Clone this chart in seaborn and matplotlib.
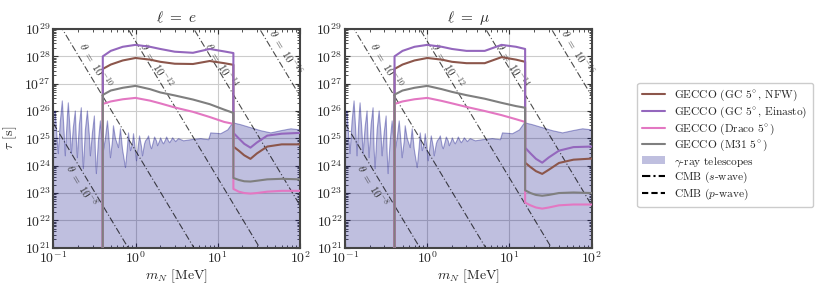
import numpy as np
import pandas as pd
import seaborn as sns
import matplotlib.pyplot as plt
from matplotlib.ticker import LogLocator, NullFormatter
from matplotlib.patches import Patch
from matplotlib.lines import Line2D

# GECCO mass grid [MeV]; repeated masses are the threshold and the jump
gecco_m = [0.4, 0.4, 0.5, 0.7, 1.0, 1.5, 2.0, 3.0, 5.0, 8.0, 12.0, 15.5,
           15.5, 18.0, 21.0, 25.0, 30.0, 40.0, 60.0, 100.0]

# log10(tau / s) for l = e
e_nfw = [18, 27.54, 27.70, 27.85, 27.94, 27.88, 27.80, 27.73, 27.72, 27.83, 27.75, 27.69,
         24.70, 24.55, 24.38, 24.25, 24.45, 24.70, 24.78, 24.78]
e_einasto = [18, 28.00, 28.20, 28.35, 28.42, 28.35, 28.27, 28.17, 28.13, 28.27, 28.18, 28.12,
             25.20, 25.00, 24.80, 24.66, 24.85, 25.10, 25.17, 25.20]
e_draco = [18, 26.26, 26.35, 26.43, 26.48, 26.38, 26.28, 26.13, 25.97, 25.78, 25.60, 25.53,
           23.15, 23.05, 23.00, 22.98, 23.00, 23.05, 23.08, 23.08]
e_m31 = [18, 26.59, 26.75, 26.85, 26.92, 26.80, 26.68, 26.57, 26.42, 26.25, 26.05, 25.93,
         23.55, 23.48, 23.43, 23.42, 23.45, 23.50, 23.52, 23.50]

# log10(tau / s) for l = mu
mu_nfw = [18, 27.54, 27.70, 27.85, 27.94, 27.88, 27.80, 27.75, 27.75, 27.97, 27.88, 27.80,
          24.11, 23.95, 23.80, 23.70, 23.85, 24.10, 24.22, 24.26]
mu_einasto = [18, 28.00, 28.20, 28.35, 28.42, 28.35, 28.27, 28.20, 28.20, 28.42, 28.35, 28.27,
              24.66, 24.45, 24.25, 24.11, 24.30, 24.55, 24.68, 24.70]
mu_draco = [18, 26.26, 26.35, 26.43, 26.48, 26.37, 26.28, 26.15, 26.00, 25.85, 25.70, 25.60,
            22.65, 22.55, 22.47, 22.43, 22.47, 22.55, 22.58, 22.58]
mu_m31 = [18, 26.60, 26.75, 26.85, 26.92, 26.80, 26.70, 26.58, 26.45, 26.30, 26.18, 26.12,
          23.10, 23.00, 22.93, 22.90, 22.93, 23.00, 23.02, 23.00]

# gamma-ray telescope bound: log10(m / MeV), log10(tau / s)
gamma_logm = [-1.0, -0.976, -0.951, -0.939, -0.915, -0.89, -0.866, -0.854, -0.829, -0.817,
              -0.793, -0.78, -0.756, -0.732, -0.72, -0.707, -0.683, -0.659, -0.646, -0.634,
              -0.61, -0.585, -0.561, -0.549, -0.524, -0.5, -0.488, -0.476, -0.451, -0.427,
              -0.415, -0.39, -0.366, -0.341, -0.317, -0.305, -0.28, -0.268, -0.244, -0.207,
              -0.195, -0.183, -0.158, -0.122, -0.098, -0.085, -0.061, -0.037, -0.024, 0.012,
              0.037, 0.049, 0.073, 0.085, 0.11, 0.122, 0.146, 0.159, 0.183, 0.195, 0.22,
              0.232, 0.256, 0.268, 0.293, 0.305, 0.329, 0.341, 0.366, 0.378, 0.402, 0.415,
              0.439, 0.451, 0.476, 0.488, 0.512, 0.524, 0.585, 0.671, 0.793, 0.89, 0.915,
              1.037, 1.122, 1.183, 1.28, 1.402, 1.524, 1.646, 1.768, 1.89, 2.0]
gamma_logtau = [25.93, 26.0, 24.9, 24.44, 25.6, 26.37, 25.1, 24.36, 25.8, 26.3,
                25.2, 24.44, 25.4, 26.0, 25.0, 24.29, 25.5, 26.12, 24.6, 23.89,
                25.3, 26.0, 25.1, 24.36, 25.2, 25.82, 24.5, 23.71, 24.9, 25.64,
                25.2, 24.55, 25.0, 25.64, 24.8, 24.29, 24.9, 25.46, 25.0, 24.66,
                25.0, 25.35, 24.6, 23.93, 24.7, 25.2, 24.55, 24.8, 25.17, 24.18,
                24.8, 25.09, 24.7, 24.36, 24.8, 24.91, 25.0, 25.09, 24.7, 24.62, 24.9,
                25.05, 24.9, 24.73, 24.9, 25.02, 24.85, 24.8, 24.95, 25.05, 24.9, 24.84,
                24.95, 25.02, 24.93, 24.88, 24.96, 24.99, 24.91, 24.95, 24.99, 24.95, 25.2,
                25.17, 25.31, 25.57, 25.5, 25.39, 25.28, 25.2, 25.28, 25.35, 25.31]

# CMB lines: log10 tau at m = 0.1 and 100 MeV for each mixing angle
cmb_theta_exp = [-8, -10, -12, -14, -16]
cmb_m = [0.1, 100.0]
cmb_logtau_lo = [25.55, 29.55, 33.55, 37.55, 41.55]
cmb_logtau_hi = [10.55, 14.55, 18.55, 22.55, 26.55]
cmb_label_logm = [-0.66, -0.49, 0.25, 1.04, 1.83]
cmb_label_logtau = [23.27, 27.69, 27.69, 27.69, 28.16]

gecco_labels = [r"GECCO (GC 5$^{\!\circ}$, NFW)", r"GECCO (GC 5$^{\!\circ}$, Einasto)",
                r"GECCO (Draco 5$^{\!\circ}$)", r"GECCO (M31 5$^{\!\circ}$)"]
gecco_colors = ["#8c564b", "#9467bd", "#e377c2", "#7f7f7f"]

sns.set_style("ticks", rc={"xtick.direction": "in", "ytick.direction": "in",
                           "xtick.top": True, "ytick.right": True})
plt.rcParams["font.family"] = ["cmr10", "DejaVu Serif"]
plt.rcParams["mathtext.fontset"] = "cm"
plt.rcParams["axes.formatter.use_mathtext"] = True
plt.rcParams["axes.unicode_minus"] = False


def draw_panel(ax, curves, title, ylabel):
    """
        Draws one lifetime panel: gamma-ray band, CMB lines and GECCO curves.
    """
    ax.set_xscale("log")
    ax.set_yscale("log")

    gamma = pd.DataFrame({"m": 10 ** np.array(gamma_logm), "tau": 10 ** np.array(gamma_logtau)})
    ax.fill_between(gamma["m"], 1e15, gamma["tau"], color="navy", alpha=0.25, lw=0, zorder=1)
    sns.lineplot(data=gamma, x="m", y="tau", ax=ax, color="navy", alpha=0.35, lw=0.8,
                 estimator=None, sort=False, zorder=1)

    for i, th in enumerate(cmb_theta_exp):
        cmb = pd.DataFrame({"m": cmb_m, "tau": [10 ** cmb_logtau_lo[i], 10 ** cmb_logtau_hi[i]]})
        sns.lineplot(data=cmb, x="m", y="tau", ax=ax, color="black", alpha=0.7, lw=0.8,
                     ls=(0, (6, 2, 1, 2)), estimator=None, sort=False, zorder=2)
        ax.text(10 ** cmb_label_logm[i], 10 ** cmb_label_logtau[i],
                r"$\theta\ =\ 10^{%d}$" % th, rotation=-59, rotation_mode="anchor",
                ha="center", va="center", fontsize=8, color="#333333", zorder=3)

    for vals, color in zip(curves, gecco_colors):
        df = pd.DataFrame({"m": gecco_m, "tau": 10 ** np.array(vals, dtype=float)})
        sns.lineplot(data=df, x="m", y="tau", ax=ax, color=color, lw=1.5,
                     estimator=None, sort=False, zorder=4)

    ax.set_xlim(0.1, 100)
    ax.set_ylim(1e21, 1e29)
    ax.yaxis.set_major_locator(LogLocator(base=10, numticks=20))
    ax.yaxis.set_minor_locator(LogLocator(base=10, subs=np.arange(2, 10), numticks=100))
    ax.yaxis.set_minor_formatter(NullFormatter())
    ax.xaxis.set_minor_formatter(NullFormatter())
    ax.grid(True, which="major", color="#cccccc", lw=0.8, zorder=0)
    ax.tick_params(which="both", direction="in", top=True, right=True, labelsize=10,
                   color="#333333")
    ax.tick_params(which="major", length=3.5, width=0.8, pad=2)
    ax.tick_params(which="minor", length=2, width=0.6)
    for sp in ax.spines.values():
        sp.set_linewidth(1.5)
        sp.set_color("#444444")
    ax.set_title(title, fontsize=11, pad=5)
    ax.set_xlabel(r"$m_N$ [MeV]", fontsize=10, labelpad=1)
    ax.set_ylabel(ylabel, fontsize=10, labelpad=4)


fig = plt.figure(figsize=(8.3, 2.91), dpi=100)
ax1 = fig.add_axes([0.0642, 0.1488, 0.2972, 0.7515])
ax2 = fig.add_axes([0.4157, 0.1488, 0.2972, 0.7515])

draw_panel(ax1, [e_nfw, e_einasto, e_draco, e_m31], r"$\ell\ =\ e$", r"$\tau$ [s]")
draw_panel(ax2, [mu_nfw, mu_einasto, mu_draco, mu_m31], r"$\ell\ =\ \mu$", "")

handles = [Line2D([], [], color=c, lw=1.5) for c in gecco_colors]
handles.append(Patch(facecolor="navy", alpha=0.25, edgecolor="none"))
handles.append(Line2D([], [], color="black", lw=1.5, ls=(0, (4, 1.5, 1, 1.5))))
handles.append(Line2D([], [], color="black", lw=1.5, ls=(0, (3, 1.5))))
labels = gecco_labels + [r"$\gamma$-ray telescopes", r"CMB ($s$-wave)", r"CMB ($p$-wave)"]
fig.legend(handles, labels, loc="upper left", bbox_to_anchor=(0.761, 0.735),
           fontsize=8.2, frameon=True, framealpha=1, edgecolor="#cccccc",
           handlelength=2.0, borderpad=0.45, labelspacing=0.12)

fig.savefig("out.png", dpi=100)
